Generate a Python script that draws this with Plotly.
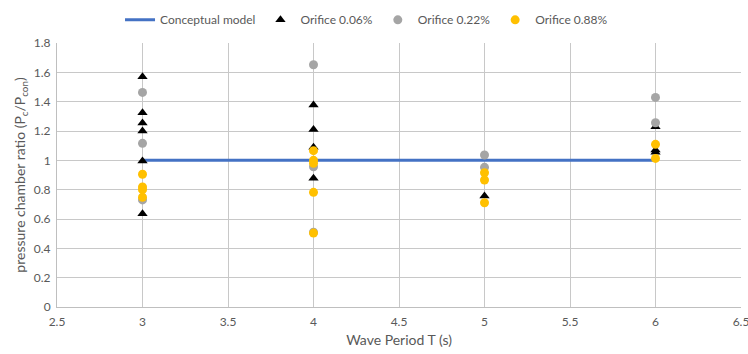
import plotly.graph_objects as go

# Data
model_x = [3, 6]
model_y = [1, 1]

o006_x = [3, 3, 3, 3, 3, 3, 4, 4, 4, 4, 5, 6, 6, 6]
o006_y = [1.57, 1.325, 1.255, 1.20, 0.995, 0.635, 1.377, 1.211, 1.09, 0.877, 0.757, 1.229, 1.07, 1.055]

o022_x = [3, 3, 3, 4, 4, 4, 5, 5, 6, 6]
o022_y = [1.463, 1.116, 0.73, 1.652, 0.956, 0.51, 1.036, 0.952, 1.429, 1.256]

o088_x = [3, 3, 3, 3, 4, 4, 4, 4, 4, 5, 5, 5, 6, 6]
o088_y = [0.905, 0.818, 0.80, 0.748, 1.066, 1.0, 0.98, 0.782, 0.504, 0.915, 0.866, 0.711, 1.109, 1.013]

font = "Lato, Open Sans, sans-serif"
txt = "#595959"

fig = go.Figure()
fig.add_trace(go.Scatter(x=model_x, y=model_y, mode="lines", name="Conceptual model",
                         line=dict(color="#4472C4", width=3)))
fig.add_trace(go.Scatter(x=o006_x, y=o006_y, mode="markers", name="Orifice 0.06%",
                         marker=dict(symbol="triangle-up", color="black", size=9)))
fig.add_trace(go.Scatter(x=o022_x, y=o022_y, mode="markers", name="Orifice 0.22%",
                         marker=dict(symbol="circle", color="#A5A5A5", size=9)))
fig.add_trace(go.Scatter(x=o088_x, y=o088_y, mode="markers", name="Orifice 0.88%",
                         marker=dict(symbol="circle", color="#FFC000", size=9)))

fig.update_layout(
    width=748, height=354,
    margin=dict(l=57, r=7, t=43, b=47, autoexpand=False),
    paper_bgcolor="white", plot_bgcolor="white",
    font=dict(family=font, size=12, color=txt),
    legend=dict(orientation="h", x=0.49, xanchor="center", y=0.985, yanchor="top",
                yref="container", xref="container", font=dict(size=12, color=txt),
                tracegroupgap=0),
    showlegend=True,
)
fig.update_xaxes(range=[2.5, 6.5], dtick=0.5, tick0=2.5, showgrid=True, gridcolor="#C8C8C8",
                 gridwidth=1, zeroline=False, showline=True, linecolor="#BFBFBF",
                 automargin=False, ticklabelstandoff=4, ticklabeloverflow="allow",
                 title=dict(text="Wave Period T (s)", standoff=6), ticks="")
fig.update_yaxes(range=[0, 1.8], dtick=0.2, showgrid=True, gridcolor="#C8C8C8", gridwidth=1,
                 zeroline=False, showline=True, linecolor="#BFBFBF",
                 tickformat="~g", ticks="", automargin=False, ticklabelstandoff=3,
                 title=dict(text="pressure chamber ratio (P<sub>c</sub>/P<sub>con</sub>)", standoff=4))

fig.write_html("out.html", config={"displayModeBar": False},
               post_script="document.body.style.margin='0';document.body.style.overflow='hidden';")
